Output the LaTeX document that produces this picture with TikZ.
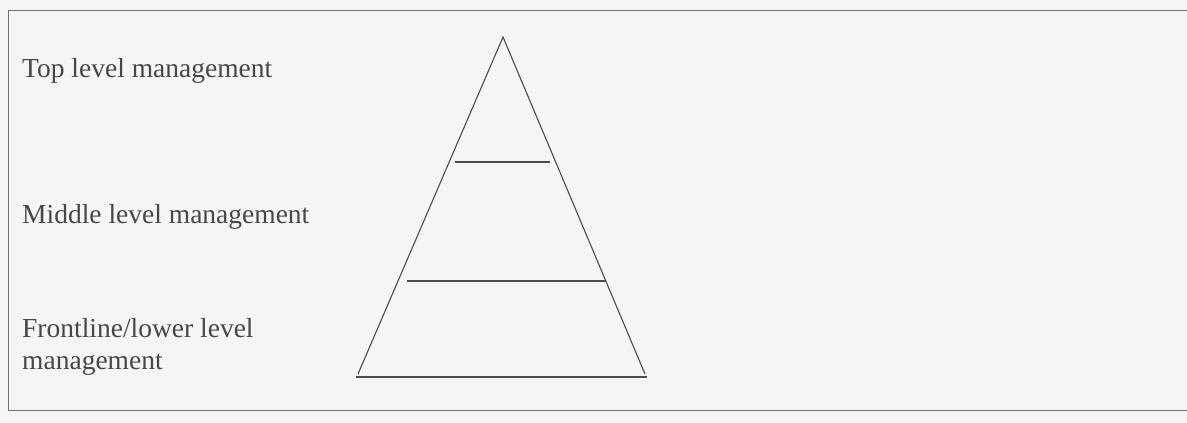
\documentclass[tikz,border=0pt]{standalone}
\usepackage{fontspec}
\setmainfont{Liberation Serif}
\begin{document}
\begin{tikzpicture}[x=1pt,y=-1pt,
  lbl/.style={anchor=base west,inner sep=0pt,text=black!72,font=\fontsize{27.5}{32}\selectfont,align=left},
  ln/.style={draw=black!70,line width=1.1pt}]
\useasboundingbox[fill=black!4] (0,0) rectangle (1187,423);
\draw[draw=black!55,line width=1pt] (8,10) -- (1187,10);
\draw[draw=black!55,line width=1pt] (8,10) -- (8,410) -- (1187,410);
% pyramid
\coordinate (apex) at (503,37);
\coordinate (bl) at (358,374);
\coordinate (br) at (645,374);
\draw[ln] (bl) -- (apex) -- (br);
\draw[ln] (356,377) -- (647,377);
\draw[ln] (455,162) -- (550,162);
\draw[ln] (407,281) -- (606,281);
% labels
\node[lbl] (top) at (22,77) {Top level management};
\node[lbl] (mid) at (22,223) {Middle level management};
\node[lbl] (low) at (22,369) {Frontline/lower level\\management};
\end{tikzpicture}
\end{document}
